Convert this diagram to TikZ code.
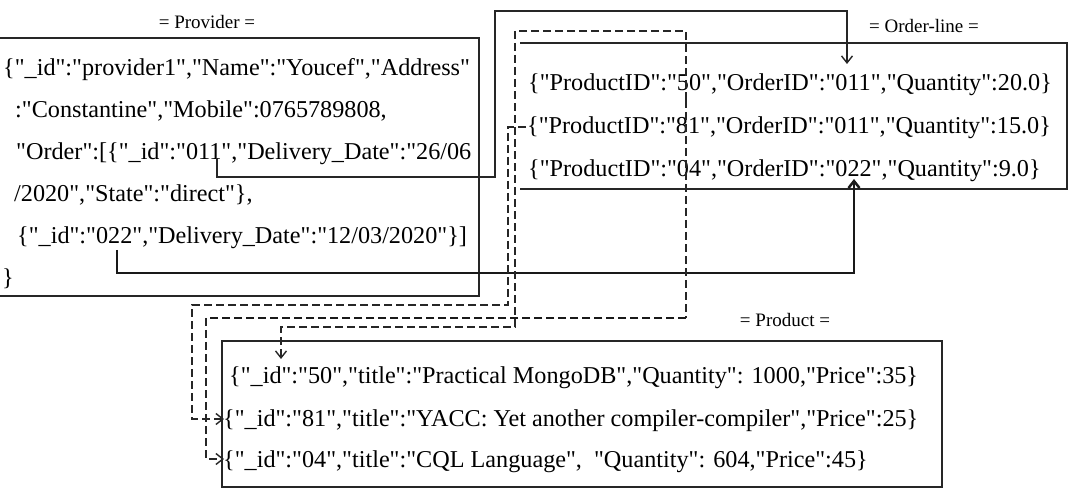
\documentclass[tikz,border=0pt]{standalone}
\usepackage{fontspec}
\setmainfont{Liberation Serif}[Ligatures=TeXOff]
\usetikzlibrary{arrows.meta}
\begin{document}
\begin{tikzpicture}[x=1bp,y=-1bp,
  txt/.style={font=\fontsize{24.2bp}{29bp}\selectfont, inner sep=0pt, anchor=base west},
  ttl/.style={font=\fontsize{19bp}{22bp}\selectfont, inner sep=0pt},
  box/.style={line width=1.4bp, draw=black!85},
  link/.style={line width=1.4bp, draw=black!85},
  thicklink/.style={line width=2.5bp, draw=black!90},
  dlink/.style={line width=1.4bp, draw=black!85, dash pattern=on 8bp off 4bp},
  dthick/.style={line width=2.2bp, draw=black!90, dash pattern=on 8bp off 4bp},
  arr/.style={-{Straight Barb[length=7pt,width=11pt]}}
]
\useasboundingbox (0,0) rectangle (1069,495);

% boxes
\draw[box] (-2,38) rectangle (479,296);
\draw[box] (520,43) -- (1067,43) -- (1067,189) -- (520,189);
\draw[box] (222,341) rectangle (942,487);

% titles
\node[ttl] (tprov) at (207,22) {= Provider =};
\node[ttl] (tord) at (924,26) {= Order-line =};
\node[ttl] (tprod) at (785,320) {= Product =};

% provider text
\node[txt] (p1) at (3,76) {\{"\_id":"provider1","Name":"Youcef","Address"};
\node[txt] (p2) at (15,118) {:"Constantine","Mobile":0765789808,};
\node[txt] (p3) at (16,160) {"Order":[\{"\_id":"011","Delivery\_Date":"26/06};
\node[txt] (p4) at (14,202) {/2020","State":"direct"\},};
\node[txt] (p5) at (17,244) {\{"\_id":"022","Delivery\_Date":"12/03/2020"\}]};
\node[txt] (p6) at (2,286) {\}};

% order-line text
\node[txt] (o1) at (528,91) {\{"ProductID":"50","OrderID":"011","Quantity":20.0\}};
\node[txt] (o2) at (527,134) {\{"ProductID":"81","OrderID":"011","Quantity":15.0\}};
\node[txt] (o3) at (528,177) {\{"ProductID":"04","OrderID":"022","Quantity":9.0\}};

% product text
\node[txt] (r1) at (229,384) {\{"\_id":"50","title":"Practical MongoDB","Quantity": 1000,"Price":35\}};
\node[txt] (r2) at (223,426) {\{"\_id":"81","title":"YACC: Yet another compiler-compiler","Price":25\}};
\node[txt] (r3) at (223,467) {\{"\_id":"04","title":"CQL Language",~~"Quantity": 604,"Price":45\}};

% connector end points
\coordinate (p011) at (217,158);
\coordinate (o011) at (847,64);
\coordinate (p022) at (117,250);
\coordinate (o022) at (854,179);
\coordinate (o50) at (686,100);
\coordinate (r50) at (281,359);
\coordinate (o04) at (686,100);
\coordinate (r04) at (224,459);
\coordinate (o81) at (526,127);
\coordinate (r81) at (224,419);

% connectors
\draw[link,arr] (p011) |- (495,177) |- (847,11) -- (o011);
\draw[thicklink,arr] (p022) |- (854,273) -- (o022);
\draw[dlink,arr] (o50) -- (686,31) -- (515,31) -- (515,327) -- (281,327) -- (r50);
\draw[dlink] (o04) -- (686,318);
\draw[dthick] (686,318) -- (206,318);
\draw[dlink,arr] (206,318) |- (r04);
\draw[dlink,arr] (o81) -- (508,127) -- (508,305) -- (192,305) |- (r81);
\end{tikzpicture}
\end{document}
